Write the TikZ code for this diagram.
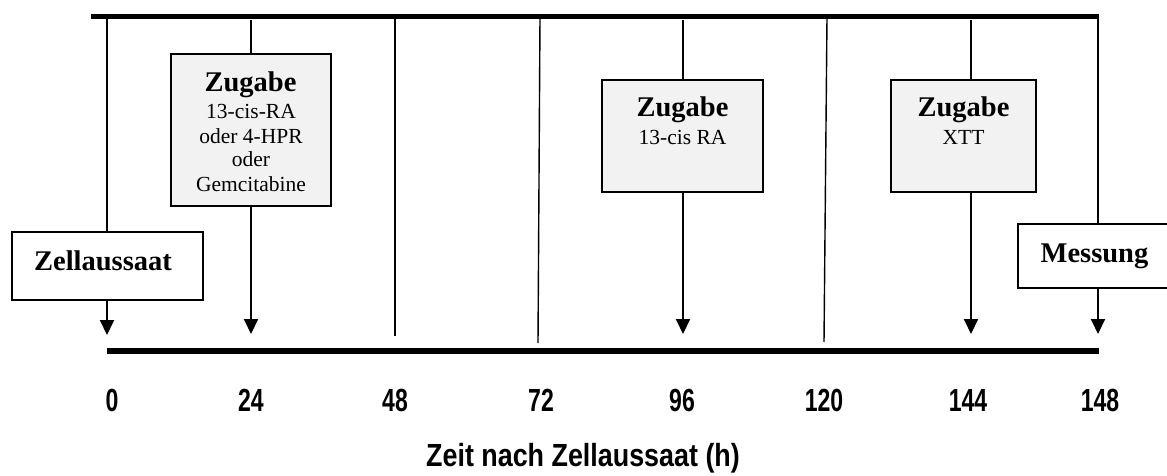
\documentclass[tikz,border=0pt]{standalone}
\usepackage{fontspec}
\setmainfont{Liberation Serif}
\setsansfont{Liberation Sans}
\usetikzlibrary{arrows.meta}
\definecolor{boxgrey}{RGB}{242,242,242}
\begin{document}
\begin{tikzpicture}[x=1pt,y=-1pt,
  topbar/.style={line width=5pt},
  botbar/.style={line width=6pt},
  vline/.style={line width=2pt},
  thinline/.style={line width=1.4pt},
  arr/.style={line width=2pt,-{Triangle[length=15pt,width=14pt]}},
  greybox/.style={draw, line width=1.8pt, fill=boxgrey, inner sep=0pt},
  whitebox/.style={draw, line width=1.8pt, fill=white, inner sep=0pt},
  head/.style={font=\fontsize{28.5}{30}\selectfont\bfseries, anchor=base, inner sep=0pt},
  subtext/.style={font=\fontsize{21.5}{24}\selectfont, anchor=base, inner sep=0pt},
  ticklab/.style={font=\fontsize{32}{34}\selectfont\sffamily\bfseries, anchor=base, inner sep=0pt},
]
\useasboundingbox (0,0) rectangle (1167,476);
\clip (0,0) rectangle (1167,476);

% bars
\coordinate (tl) at (91,17);
\coordinate (tr) at (1099,17);
\coordinate (bl) at (107,351);
\coordinate (br) at (1099,351);
\draw[topbar] (tl) -- (tr);
\draw[botbar] (bl) -- (br);

% boxes
\node[whitebox, minimum width=191pt, minimum height=68pt] (zell) at (107.5,266) {};
\node[greybox, minimum width=160pt, minimum height=152pt] (z24) at (251,130) {};
\node[greybox, minimum width=161pt, minimum height=112pt] (z96) at (682.5,136) {};
\node[greybox, minimum width=145pt, minimum height=112pt] (z144) at (963.5,136) {};
\node[whitebox, minimum width=151pt, minimum height=64pt] (mess) at (1093.5,256) {};

% box texts
\node[head] (zellt) at (103,270) {Zellaussaat};
\node[head] (z24h) at (250.5,91.7) {Zugabe};
\node[subtext] (z24a) at (251,119) {13-cis-RA};
\node[subtext] (z24b) at (251,143) {oder 4-HPR};
\node[subtext] (z24c) at (251,167) {oder};
\node[subtext] (z24d) at (251,191) {Gemcitabine};
\node[head] (z96h) at (682.5,117) {Zugabe};
\node[subtext] (z96a) at (682.5,145) {13-cis RA};
\node[head] (z144h) at (963.5,117) {Zugabe};
\node[subtext] (z144a) at (963.5,145) {XTT};
\node[head] (messt) at (1094.5,262) {Messung};

% top ends of vertical lines
\coordinate (t0) at (107,17);
\coordinate (t24) at (251,20);
\coordinate (t48) at (395,17);
\coordinate (t72) at (540,17);
\coordinate (t96) at (683,20);
\coordinate (t120) at (827,17);
\coordinate (t144) at (971,20);
\coordinate (t148) at (1098,17);
% lower ends
\coordinate (e0) at (107,335);
\coordinate (e24) at (251,334);
\coordinate (e48) at (395,336);
\coordinate (e72) at (538,343);
\coordinate (e96) at (683,334);
\coordinate (e120) at (824,342);
\coordinate (e144) at (971,334);
\coordinate (e148) at (1098,334);

% lines from top bar to boxes
\draw[vline] (t0) -- (t0 |- zell.north);
\draw[vline] (t24) -- (t24 |- z24.north);
\draw[vline] (t96) -- (t96 |- z96.north);
\draw[vline] (t144) -- (t144 |- z144.north);
\draw[vline] (t148) -- (t148 |- mess.north);
% arrows from boxes to bottom
\draw[arr] (e0 |- zell.south) -- (e0);
\draw[arr] (e24 |- z24.south) -- (e24);
\draw[arr] (e96 |- z96.south) -- (e96);
\draw[arr] (e144 |- z144.south) -- (e144);
\draw[arr] (e148 |- mess.south) -- (e148);
% plain lines
\draw[thinline] (t48) -- (e48);
\draw[thinline] (t72) -- (e72);
\draw[thinline] (t120) -- (e120);

% tick labels
\node[ticklab] (l0) at (112,411) {\scalebox{0.72}[1]{0}};
\node[ticklab] (l24) at (251,411) {\scalebox{0.72}[1]{24}};
\node[ticklab] (l48) at (395,411) {\scalebox{0.72}[1]{48}};
\node[ticklab] (l72) at (541,411) {\scalebox{0.72}[1]{72}};
\node[ticklab] (l96) at (682,411) {\scalebox{0.72}[1]{96}};
\node[ticklab] (l120) at (824,411) {\scalebox{0.72}[1]{120}};
\node[ticklab] (l144) at (968,411) {\scalebox{0.72}[1]{144}};
\node[ticklab] (l148) at (1100,411) {\scalebox{0.72}[1]{148}};
\node[ticklab] (title) at (583,466) {\scalebox{0.84}[1]{Zeit nach Zellaussaat (h)}};
\end{tikzpicture}
\end{document}
